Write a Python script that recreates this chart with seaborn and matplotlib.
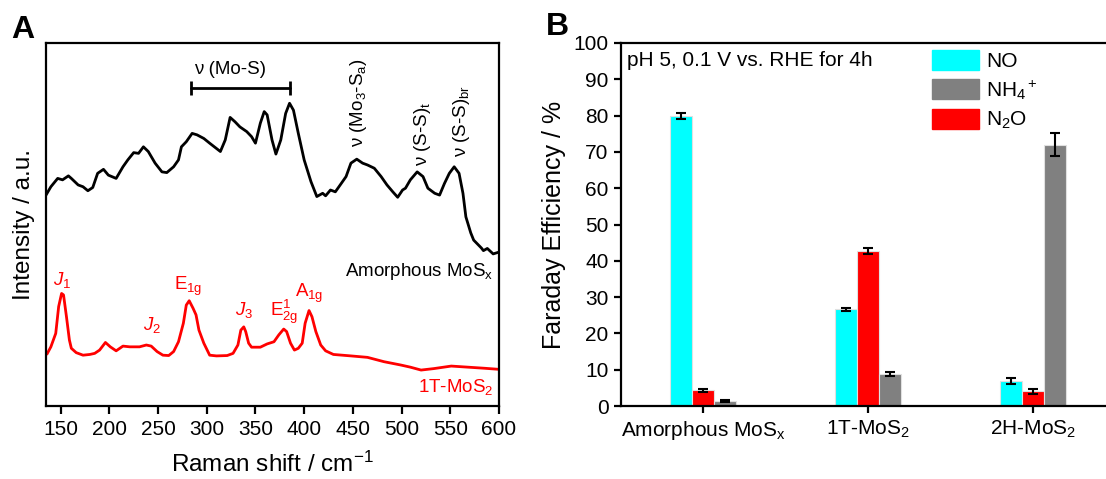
import matplotlib
matplotlib.use("Agg")
import matplotlib.pyplot as plt
from matplotlib.patches import Patch
import seaborn as sns
import pandas as pd

sns.set_style("ticks")
plt.rcParams['font.family'] = ['Liberation Sans', 'DejaVu Sans']
plt.rcParams['mathtext.fontset'] = 'custom'
plt.rcParams['mathtext.rm'] = 'Liberation Sans'
plt.rcParams['mathtext.it'] = 'Liberation Sans:italic'
plt.rcParams['mathtext.bf'] = 'Liberation Sans:bold'
plt.rcParams['mathtext.default'] = 'regular'
for k in ['axes.edgecolor', 'axes.labelcolor', 'text.color', 'xtick.color', 'ytick.color']:
    plt.rcParams[k] = 'black'

# Raman spectra (arbitrary units)
amorph_shift = [135, 140, 147, 152, 158, 161, 168, 173, 178, 183,
                188, 194, 199, 207, 214, 219, 225, 230, 235, 240,
                247, 254, 259, 266, 271, 274, 279, 285, 290, 297,
                303, 314, 319, 324, 329, 334, 341, 346, 350, 355,
                359, 362, 367, 371, 376, 381, 385, 389, 394, 400,
                407, 413, 419, 422, 427, 432, 437, 443, 448, 454,
                460, 465, 472, 479, 485, 491, 496, 501, 504, 509,
                516, 522, 527, 534, 539, 544, 549, 554, 559, 563,
                566, 571, 574, 582, 584, 588, 594, 600]
amorph_int = [58.1, 60.4, 62.7, 62.3, 63.4, 62.7, 60.9, 60.4, 59.3, 60.2,
              64.1, 65.2, 63.6, 62.7, 65.9, 67.8, 69.8, 69.6, 71.4, 70.1,
              66.9, 64.5, 64.3, 65.9, 67.8, 71.4, 72.8, 75.1, 74.7, 73.7,
              72.4, 70.1, 73.3, 79.5, 78.3, 76.9, 75.6, 74.2, 72.4, 77.9,
              81.1, 80.2, 73.3, 69.4, 73.3, 80.6, 83.4, 81.5, 75.1, 67.8,
              61.8, 57.7, 58.6, 57.9, 59.5, 59.0, 60.9, 63.2, 66.9, 68.0,
              66.9, 66.4, 65.5, 63.2, 60.9, 59.0, 57.5, 59.5, 60.0, 62.3,
              64.5, 63.2, 60.0, 58.6, 58.1, 61.3, 64.1, 65.9, 64.1, 58.6,
              52.1, 47.7, 45.7, 43.5, 42.8, 43.4, 41.9, 42.4]

t_shift = [136, 140, 145, 148, 151, 153, 156, 159, 161, 166,
           173, 180, 185, 190, 194, 196, 201, 207, 214, 221,
           231, 238, 243, 249, 255, 261, 266, 271, 276, 279,
           282, 286, 289, 292, 297, 303, 310, 321, 327, 332,
           335, 338, 340, 343, 346, 355, 362, 369, 374, 379,
           382, 386, 390, 394, 398, 401, 405, 408, 412, 417,
           422, 430, 448, 465, 482, 499, 509, 520, 533, 551,
           568, 585, 600]
t_int = [14.3, 16.3, 20.0, 27.4, 31.0, 30.6, 24.6, 18.2, 15.9, 14.7,
         14.0, 14.2, 14.5, 15.4, 16.8, 17.5, 16.3, 15.2, 16.5, 16.3,
         16.3, 16.8, 16.5, 15.0, 14.0, 13.9, 15.0, 17.7, 22.8, 27.8,
         29.0, 26.9, 25.1, 20.9, 17.3, 14.0, 13.8, 13.9, 14.5, 16.8,
         20.9, 21.8, 20.5, 17.3, 16.2, 16.2, 17.1, 17.7, 19.6, 21.2,
         20.5, 17.3, 15.4, 15.9, 17.3, 22.8, 26.3, 24.6, 20.5, 16.8,
         15.2, 14.2, 13.8, 13.4, 12.2, 11.3, 10.7, 9.9, 10.3, 11.0,
         10.7, 10.4, 10.1]

# Faraday efficiencies
materials = ['Amorphous MoS$_x$', '1T-MoS$_2$', '2H-MoS$_2$']
fe_no = [80.0, 26.6, 7.0]
fe_n2o = [4.3, 42.7, 4.0]
fe_nh4 = [1.4, 8.9, 72.0]
err_no = [0.8, 0.3, 0.85]
err_n2o = [0.5, 0.8, 0.6]
err_nh4 = [0.3, 0.5, 3.2]

W, H = 1106, 479
fig = plt.figure(figsize=(W / 100, H / 100), dpi=100)
axA = fig.add_axes([46 / W, 73 / H, 453 / W, 363 / H])
axB = fig.add_axes([621 / W, 73 / H, 485 / W, 363 / H])

TICK = 15
LAB = 17.5
ANN = 13.5

# ---- Panel A ----
sns.lineplot(x=amorph_shift, y=amorph_int, ax=axA, color='black', lw=2,
             estimator=None, sort=False)
sns.lineplot(x=t_shift, y=t_int, ax=axA, color='#ff0000', lw=2,
             estimator=None, sort=False)
axA.set_xlim(135, 600)
axA.set_ylim(0, 100)
axA.set_yticks([])
axA.set_xticks(range(150, 601, 50))
axA.tick_params(axis='x', labelsize=TICK, length=6, width=1.6, pad=4)
for s in axA.spines.values():
    s.set_linewidth(1.6)
axA.set_xlabel('Raman shift / cm$^{-1}$', fontsize=LAB, labelpad=9)
axA.set_ylabel('Intensity / a.u.', fontsize=LAB, labelpad=8)

axA.plot([284, 385], [87.6, 87.6], color='black', lw=2, marker='|',
         markersize=10, mew=2)
axA.text(324, 92.6, 'ν (Mo-S)', fontsize=ANN, ha='center', va='center')
axA.text(456, 71.3, 'ν (Mo$_3$-S$_a$)', fontsize=ANN, rotation=90,
         ha='center', va='bottom')
axA.text(521, 66.1, 'ν (S-S)$_t$', fontsize=ANN, rotation=90,
         ha='center', va='bottom')
axA.text(561, 68.6, 'ν (S-S)$_{br}$', fontsize=ANN, rotation=90,
         ha='center', va='bottom')

red = '#ff0000'
axA.text(152, 34.7, r'$\mathit{J}_1$', color=red, fontsize=ANN, ha='center', va='center')
axA.text(244, 22.3, r'$\mathit{J}_2$', color=red, fontsize=ANN, ha='center', va='center')
axA.text(281, 32.9, 'E$_{1g}$', color=red, fontsize=ANN, ha='center', va='center')
axA.text(338, 26.4, r'$\mathit{J}_3$', color=red, fontsize=ANN, ha='center', va='center')
axA.text(379, 26.0, 'E$^{1}_{2g}$', color=red, fontsize=ANN, ha='center', va='center')
axA.text(405, 31.0, 'A$_{1g}$', color=red, fontsize=ANN, ha='center', va='center')
axA.text(594, 37.0, 'Amorphous MoS$_x$', color='black', fontsize=ANN, ha='right', va='center')
axA.text(594, 5.3, '1T-MoS$_2$', color=red, fontsize=ANN, ha='right', va='center')

# ---- Panel B ----
products = ['NO', 'N2O', 'NH4']
colors = {'NO': '#00ffff', 'N2O': '#ff0000', 'NH4': '#808080'}
df = pd.DataFrame({
    'material': materials * 3,
    'product': ['NO'] * 3 + ['N2O'] * 3 + ['NH4'] * 3,
    'fe': fe_no + fe_n2o + fe_nh4,
})
errs = {'NO': err_no, 'N2O': err_n2o, 'NH4': err_nh4}
sns.barplot(data=df, x='material', y='fe', hue='product', hue_order=products,
            palette=colors, width=0.4, errorbar=None, ax=axB, legend=False,
            edgecolor='#e0e0e0', linewidth=0.8, saturation=1)
for cont, prod in zip(axB.containers, products):
    xs = [p.get_x() + p.get_width() / 2 for p in cont]
    hs = [p.get_height() for p in cont]
    axB.errorbar(xs, hs, yerr=errs[prod], fmt='none', ecolor='black',
                 elinewidth=1.5, capsize=3.5, capthick=1.5)

axB.set_xlim(-0.497, 2.442)
axB.set_ylim(0, 100)
axB.set_yticks(range(0, 101, 10))
axB.tick_params(axis='both', labelsize=TICK, length=5, width=1.6, pad=4)
axB.spines['right'].set_visible(False)
for k in ['left', 'bottom', 'top']:
    axB.spines[k].set_linewidth(1.6)
axB.set_xlabel('')
axB.set_ylabel('Faraday Efficiency / %', fontsize=18, labelpad=5)
axB.text(0.012, 0.953, 'pH 5, 0.1 V vs. RHE for 4h', transform=axB.transAxes,
         fontsize=15, ha='left', va='center')

handles = [Patch(color=colors['NO'], label='NO'),
           Patch(color=colors['NH4'], label='NH$_4$$^+$'),
           Patch(color=colors['N2O'], label='N$_2$O')]
axB.legend(handles=handles, loc='upper left', bbox_to_anchor=(0.641, 0.981),
           frameon=False, fontsize=15, handlelength=2.26, handleheight=1.1,
           handletextpad=0.35, labelspacing=0.35, borderpad=0, borderaxespad=0)

fig.text(11 / W, 1 - 30 / H, 'A', fontsize=23, fontweight='bold', ha='left', va='center')
fig.text(546 / W, 1 - 27 / H, 'B', fontsize=23, fontweight='bold', ha='left', va='center')

fig.savefig('out.png', dpi=100)
